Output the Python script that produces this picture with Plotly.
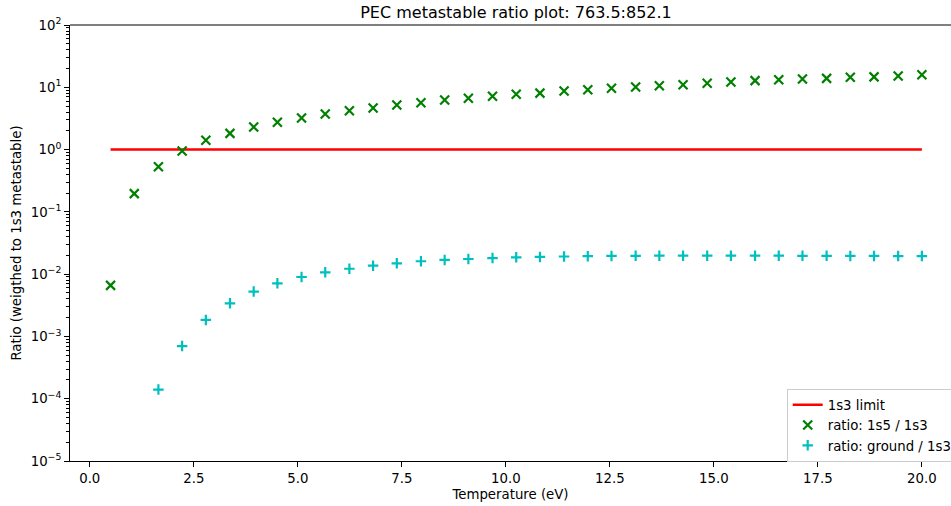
import plotly.graph_objects as go

# Temperature grid (eV)
temperature = [0.50, 1.07, 1.65, 2.22, 2.79, 3.37, 3.94, 4.51, 5.09, 5.66,
               6.24, 6.81, 7.38, 7.96, 8.53, 9.10, 9.68, 10.25, 10.82, 11.40,
               11.97, 12.54, 13.12, 13.69, 14.26, 14.84, 15.41, 15.99, 16.56, 17.13,
               17.71, 18.28, 18.85, 19.43, 20.00]

# ratio 1s5 / 1s3
ratio_1s5 = [0.0066, 0.196, 0.53, 0.95, 1.41, 1.82, 2.30, 2.74, 3.21, 3.73,
             4.21, 4.65, 5.20, 5.66, 6.25, 6.65, 7.16, 7.71, 8.05, 8.71,
             9.14, 9.63, 10.1, 10.6, 11.0, 11.6, 12.2, 12.8, 13.2, 13.6,
             13.9, 14.5, 14.7, 15.2, 15.9]

# ratio ground / 1s3 (starts at third temperature)
temperature_ground = temperature[2:]
ratio_ground = [1.40e-4, 7.0e-4, 1.84e-3, 3.40e-3, 5.24e-3, 7.13e-3, 9.0e-3, 1.07e-2, 1.22e-2, 1.37e-2,
                1.49e-2, 1.61e-2, 1.69e-2, 1.75e-2, 1.81e-2, 1.86e-2, 1.89e-2, 1.92e-2, 1.94e-2, 1.96e-2,
                1.97e-2, 1.98e-2, 1.98e-2, 1.98e-2, 1.98e-2, 1.98e-2, 1.98e-2, 1.97e-2, 1.97e-2, 1.96e-2,
                1.96e-2, 1.95e-2, 1.95e-2]

limit_x = [0.5, 20.0]
limit_y = [1.0, 1.0]

y_tick_vals = [1e-5, 1e-4, 1e-3, 1e-2, 1e-1, 1e0, 1e1, 1e2]
y_tick_text = ["10<sup>−5</sup>", "10<sup>−4</sup>", "10<sup>−3</sup>", "10<sup>−2</sup>",
               "10<sup>−1</sup>", "10<sup>0</sup>", "10<sup>1</sup>", "10<sup>2</sup>"]
y_minor_vals = [m * 10 ** e for e in range(-5, 2) for m in range(2, 10)]

FONT = "DejaVu Sans"
FS = 13.3

fig = go.Figure()
fig.add_trace(go.Scatter(x=limit_x, y=limit_y, mode="lines", name="1s3 limit",
                         line=dict(color="#ff0000", width=2.5)))
fig.add_trace(go.Scatter(x=temperature, y=ratio_1s5, mode="markers", name="ratio: 1s5 / 1s3",
                         marker=dict(symbol="x-thin-open", size=9, color="#008000",
                                     line=dict(color="#008000", width=2.2))))
fig.add_trace(go.Scatter(x=temperature_ground, y=ratio_ground, mode="markers", name="ratio: ground / 1s3",
                         marker=dict(symbol="cross-thin-open", size=7.5, color="#00bfbf",
                                     line=dict(color="#00bfbf", width=2.2))))

fig.update_layout(
    width=951, height=506,
    margin=dict(l=70, r=0, t=25, b=45, autoexpand=False),
    paper_bgcolor="white", plot_bgcolor="white",
    font=dict(family=FONT, size=FS, color="black"),
    title=dict(text="PEC metastable ratio plot: 763.5:852.1", xref="container", x=0.5426,
               xanchor="center", yref="container", y=1 - 12 / 506, yanchor="middle",
               font=dict(size=16, family=FONT, color="black")),
    showlegend=True,
    legend=dict(x=0.8135, y=0.166, xanchor="left", yanchor="top",
                bgcolor="rgba(255,255,255,0.8)", bordercolor="#cccccc", borderwidth=1,
                font=dict(size=FS, family=FONT), tracegroupgap=0),
    shapes=[dict(type="line", xref="paper", yref="paper", x0=0, x1=1, y0=1, y1=1,
                 line=dict(color="black", width=1), layer="above")],
)

fig.update_xaxes(
    range=[-0.475, 20.70], tickmode="linear", tick0=0, dtick=2.5, tickformat=".1f",
    showgrid=False, zeroline=False, showline=True, linecolor="black", linewidth=1,
    mirror=False, ticks="outside", ticklen=5, tickcolor="black", automargin=False,
    title=dict(text="Temperature (eV)", standoff=4, font=dict(size=FS)),
    tickfont=dict(size=FS),
)
fig.update_yaxes(
    type="log", range=[-5, 2], tickmode="array", tickvals=y_tick_vals, ticktext=y_tick_text,
    showgrid=False, zeroline=False, showline=True, linecolor="black", linewidth=1,
    mirror=False, ticks="outside", ticklen=5, tickcolor="black", automargin=False,
    minor=dict(tickmode="array", tickvals=y_minor_vals, ticks="outside", ticklen=3,
               tickcolor="black", showgrid=False),
    title=dict(text="Ratio (weigthed to 1s3 metastable)", standoff=6, font=dict(size=FS)),
    tickfont=dict(size=FS),
)

fig.write_html("out.html", config={"displayModeBar": False},
               post_script="document.body.style.margin='0';document.body.style.overflow='hidden';")
